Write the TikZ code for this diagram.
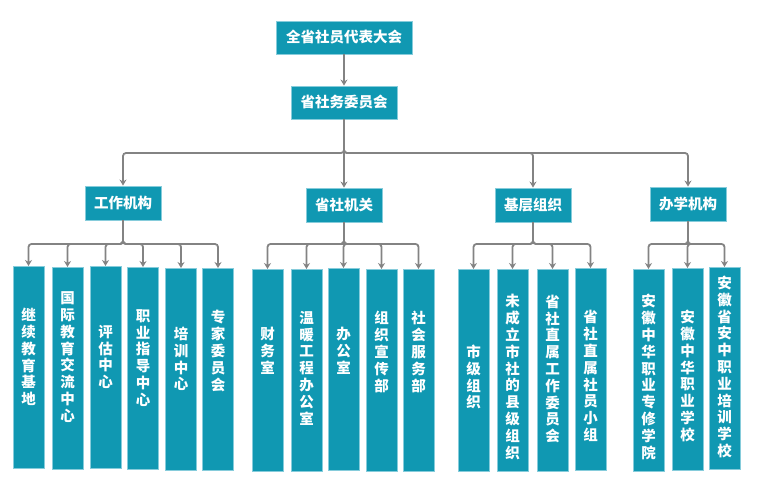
\documentclass[tikz,border=0pt]{standalone}
\usepackage{fontspec}
\newfontfamily\cjk{Noto Sans CJK SC}
\usetikzlibrary{arrows.meta}
\definecolor{boxfill}{HTML}{1098B2}
\definecolor{boxedge}{HTML}{86CCDB}
\definecolor{conncol}{HTML}{838383}
\tikzset{
  orgbox/.style={draw=boxedge, line width=0.9pt, fill=boxfill, inner sep=0pt, text=white,
    font=\cjk\bfseries\fontsize{14.5}{16.8}\selectfont, align=center},
  leafbox/.style={orgbox, minimum width=31pt, minimum height=202pt},
  vtext/.style={text=white, inner sep=0pt, align=center,
    font=\cjk\bfseries\fontsize{14.5}{16.8}\selectfont},
  connector/.style={draw=conncol, line width=1.8pt, rounded corners=3pt,
    -{Stealth[length=6pt,width=7pt]}}
}
\newcommand\orgleaf[5]{%
  \node[leafbox, anchor=north] (#1) at (#2,#3) {};
  \node[vtext] (#1t) at (#2,#4) {#5};
}
\begin{document}
\begin{tikzpicture}[x=1pt,y=-1pt]
\useasboundingbox (0,0) rectangle (759,489);
% top levels
\node[orgbox, minimum width=136pt, minimum height=33pt] (t1) at (344,37.5) {全省社员代表大会};
\node[orgbox, minimum width=106pt, minimum height=33pt] (t2) at (344,102.5) {省社务委员会};
\node[orgbox, minimum width=76pt, minimum height=34pt] (m1) at (123,203) {工作机构};
\node[orgbox, minimum width=76pt, minimum height=34pt] (m2) at (344,205) {省社机关};
\node[orgbox, minimum width=76pt, minimum height=34pt] (m3) at (533,205) {基层组织};
\node[orgbox, minimum width=76pt, minimum height=34pt] (m4) at (688,204) {办学机构};
% leaves
\orgleaf{a1}{28.5}{266}{357}{继\\续\\教\\育\\基\\地}
\orgleaf{a2}{67.5}{267}{357}{国\\际\\教\\育\\交\\流\\中\\心}
\orgleaf{a3}{105.5}{266}{357}{评\\估\\中\\心}
\orgleaf{a4}{143}{267}{358}{职\\业\\指\\导\\中\\心}
\orgleaf{a5}{181}{268}{359}{培\\训\\中\\心}
\orgleaf{a6}{218}{268}{351}{专\\家\\委\\员\\会}
\orgleaf{b1}{267.5}{269}{351}{财\\务\\室}
\orgleaf{b2}{306.5}{269}{368}{温\\暖\\工\\程\\办\\公\\室}
\orgleaf{b3}{343.5}{268}{351}{办\\公\\室}
\orgleaf{b4}{381.5}{269}{352}{组\\织\\宣\\传\\部}
\orgleaf{b5}{418.5}{269}{352}{社\\会\\服\\务\\部}
\orgleaf{c1}{473.5}{269}{377}{市\\级\\组\\织}
\orgleaf{c2}{512.5}{269}{377}{未\\成\\立\\市\\社\\的\\县\\级\\组\\织}
\orgleaf{c3}{552.5}{269}{369}{省\\社\\直\\属\\工\\作\\委\\员\\会}
\orgleaf{c4}{590.5}{268}{376}{省\\社\\直\\属\\社\\员\\小\\组}
\orgleaf{d1}{648.5}{269}{377}{安\\徽\\中\\华\\职\\业\\专\\修\\学\\院}
\orgleaf{d2}{687.5}{268}{376}{安\\徽\\中\\华\\职\\业\\学\\校}
\orgleaf{d3}{724.5}{267}{367}{安\\徽\\省\\安\\中\\职\\业\\培\\训\\学\\校}
% connectors
\coordinate (bus1) at (0,153);
\coordinate (bus2) at (0,244);
\draw[connector] (t1.south) -- (t2.north);
\foreach \c in {m1,m2,m3,m4}
  \draw[connector] (t2.south) -- (t2.south |- bus1) -| (\c.north);
\foreach \c in {a1,a2,a3,a4,a5,a6}
  \draw[connector] (m1.south) -- (m1.south |- bus2) -| (\c.north);
\foreach \c in {b1,b2,b3,b4,b5}
  \draw[connector] (m2.south) -- (m2.south |- bus2) -| (\c.north);
\foreach \c in {c1,c2,c3,c4}
  \draw[connector] (m3.south) -- (m3.south |- bus2) -| (\c.north);
\foreach \c in {d1,d2,d3}
  \draw[connector] (m4.south) -- (m4.south |- bus2) -| (\c.north);
\end{tikzpicture}
\end{document}
